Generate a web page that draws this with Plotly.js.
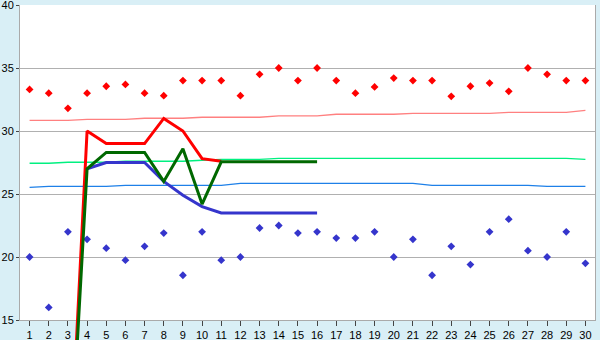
<!DOCTYPE html>
<html><head><meta charset="utf-8">
<script src="https://cdn.plot.ly/plotly-3.0.1.min.js"></script>
<style>html,body{margin:0;padding:0;background:#d9eff6;}</style>
</head><body>
<div id="chart" style="width:600px;height:340px;"></div>
<script>
const days = [1,2,3,4,5,6,7,8,9,10,11,12,13,14,15,16,17,18,19,20,21,22,23,24,25,26,27,28,29,30];
const upperPoints = [33.3,33.0,31.8,33.0,33.55,33.7,33.0,32.8,34.0,34.0,34.0,32.8,34.5,35.0,34.0,35.0,34.0,33.0,33.5,34.2,34.0,34.0,32.75,33.55,33.8,33.15,35.0,34.5,34.0,34.0];
const lowerPoints = [20.0,16.0,22.0,21.4,20.7,19.75,20.85,21.9,18.55,22.0,19.75,20.0,22.3,22.5,21.9,22.0,21.5,21.5,22.0,20.0,21.4,18.55,20.85,19.4,22.0,23.0,20.5,20.0,22.0,19.5];
const upperTrend = [30.85,30.85,30.85,30.93,30.93,30.93,31.01,31.01,31.01,31.09,31.09,31.09,31.09,31.2,31.2,31.2,31.33,31.33,31.33,31.33,31.4,31.4,31.4,31.4,31.4,31.48,31.48,31.48,31.48,31.63];
const middleTrend = [27.44,27.44,27.52,27.52,27.52,27.6,27.6,27.6,27.6,27.68,27.75,27.75,27.75,27.83,27.83,27.83,27.83,27.83,27.83,27.83,27.83,27.83,27.83,27.83,27.83,27.83,27.83,27.83,27.83,27.75];
const lowerTrend = [25.53,25.61,25.61,25.61,25.61,25.69,25.69,25.69,25.69,25.69,25.69,25.85,25.85,25.85,25.85,25.85,25.85,25.85,25.85,25.85,25.85,25.69,25.69,25.69,25.69,25.69,25.69,25.61,25.61,25.61];
const redDays = [3,4,5,6,7,8,9,10,11];
const redValues = [0,30,29,29,29,31,30,27.8,27.6];
const greenDays = [3,4,5,6,7,8,9,10,11,12,13,14,15,16];
const greenValues = [0,27,28.3,28.3,28.3,26,28.6,24.2,27.55,27.55,27.55,27.55,27.55,27.55];
const blueDays = [4,5,6,7,8,9,10,11,12,13,14,15,16];
const blueValues = [27,27.5,27.5,27.5,26,24.9,24,23.5,23.5,23.5,23.5,23.5,23.5];
const yTicks = [15,20,25,30,35,40];

const H = 340, W = 600, mT = 5, mB = 0, mL = 20, mR = 5;
const plotH = H - mT - mB;
const stripPx = 20; // space below the axis
const yMin = 15, yMax = 40;
const pxPerUnit = (plotH - stripPx) / (yMax - yMin);
const y2Min = yMin - stripPx / pxPerUnit;

function line(x, y, color, width, ya) {
  return {x: x, y: y, type: 'scatter', mode: 'lines', xaxis: 'x', yaxis: ya,
          line: {color: color, width: width}, hoverinfo: 'skip'};
}
function pts(x, y, color) {
  return {x: x, y: y, type: 'scatter', mode: 'markers', xaxis: 'x', yaxis: 'y',
          marker: {symbol: 'diamond', size: 6, color: color}, hoverinfo: 'skip'};
}

const data = [
  line(days, upperTrend, '#ff8080', 1.3, 'y'),
  line(days, middleTrend, '#00f080', 1.3, 'y'),
  line(days, lowerTrend, '#1e80e8', 1.3, 'y'),
  pts(days, upperPoints, '#ff0000'),
  pts(days, lowerPoints, '#3535cc'),
  line(blueDays, blueValues, '#3535cc', 3, 'y2'),
  line(redDays, redValues, '#ff0000', 3, 'y2'),
  line(greenDays, greenValues, '#006800', 3, 'y2')
];

const layout = {
  width: W, height: H,
  margin: {l: mL, r: mR, t: mT, b: mB},
  paper_bgcolor: '#d9eff6',
  plot_bgcolor: 'rgba(0,0,0,0)',
  showlegend: false,
  font: {family: 'Liberation Sans, Arial, sans-serif', color: '#000'},
  xaxis: {
    range: [0.5, 30.5], anchor: 'y', tickmode: 'array', tickvals: days, ticktext: days.map(String),
    showgrid: false, zeroline: false, showline: true, linecolor: '#aaaaaa', linewidth: 1,
    ticks: 'outside', ticklen: 5, tickcolor: '#444', tickwidth: 1,
    tickfont: {size: 11, family: 'Liberation Sans, Arial, sans-serif', color: '#000'},
    ticklabeloverflow: 'allow',
    fixedrange: true
  },
  yaxis: {
    domain: [stripPx / plotH, 1], range: [yMin, yMax], anchor: 'x',
    tickmode: 'array', tickvals: yTicks, ticktext: yTicks.map(String),
    showgrid: true, gridcolor: '#b0b0b0', gridwidth: 1, zeroline: false,
    showline: true, linecolor: '#aaaaaa', linewidth: 1, mirror: true,
    ticks: 'outside', ticklen: 3, tickcolor: '#444',
    tickfont: {size: 11, family: 'Liberation Sans, Arial, sans-serif', color: '#000'},
    ticklabeloverflow: 'allow',
    fixedrange: true
  },
  yaxis2: {
    domain: [0, 1], range: [y2Min, yMax], anchor: 'x', visible: false,
    showgrid: false, zeroline: false, fixedrange: true
  },
  shapes: [{
    type: 'rect', xref: 'x domain', yref: 'y domain', x0: 0, x1: 1, y0: 0, y1: 1,
    fillcolor: '#ffffff', line: {width: 0}, layer: 'below'
  }]
};

Plotly.newPlot('chart', data, layout, {displayModeBar: false, staticPlot: true});
</script>
</body></html>
